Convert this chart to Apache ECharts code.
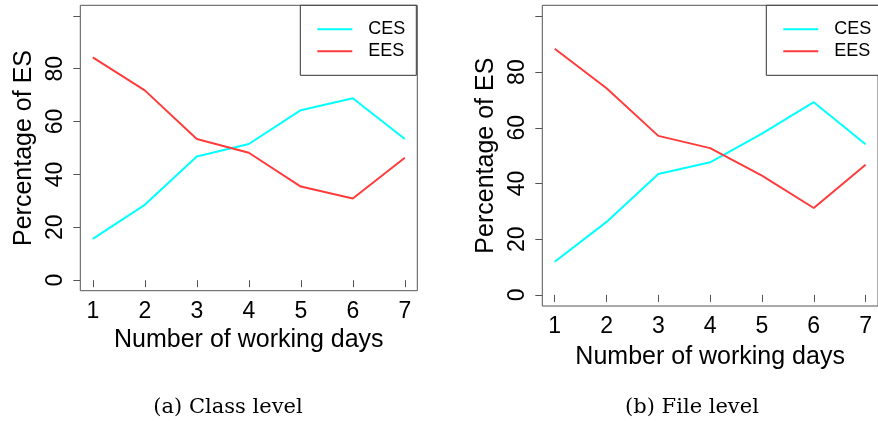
<!DOCTYPE html>
<html>
<head>
<meta charset="utf-8">
<script src="https://cdn.jsdelivr.net/npm/echarts@6/dist/echarts.min.js"></script>
<style>html,body{margin:0;padding:0;background:#fff;}#c{width:878px;height:423px;}</style>
</head>
<body>
<div id="c"></div>
<script>
// ---- data ----
var days = [1, 2, 3, 4, 5, 6, 7];
var classCES = [15.6, 28.5, 46.8, 51.5, 64.3, 68.8, 53.4];
var classEES = [84.3, 71.8, 53.4, 48.2, 35.4, 30.9, 46.3];
var fileCES = [11.9, 26.2, 43.4, 47.6, 57.9, 69.2, 54.1];
var fileEES = [88.4, 74.2, 57.1, 52.7, 42.8, 31.2, 46.7];
var yTicks = [0, 20, 40, 60, 80, 100];
var yLabels = [0, 20, 40, 60, 80];
var seriesNames = ['CES', 'EES'];
var xTitle = 'Number of working days';
var yTitle = 'Percentage of ES';
var captions = ['(a) Class level', '(b) File level'];

function pairs(ys) { return days.map(function (d, i) { return [d, ys[i]]; }); }

var FONT = 'Liberation Sans, Arial, sans-serif';
var AX = '#555';
var CYAN = '#00ffff';
var RED = '#ff3b3b';

function xAxis(gi, gap) {
  return {
    type: 'value', gridIndex: gi, min: 0.76, max: 7.24,
    name: xTitle, nameLocation: 'middle', nameGap: gap,
    nameTextStyle: { fontFamily: FONT, fontSize: 25, color: '#000' },
    axisLine: { show: false },
    axisTick: { show: true, inside: false, length: 7, customValues: days, lineStyle: { color: AX, width: 1 } },
    axisLabel: { customValues: days, margin: 9, fontFamily: FONT, fontSize: 23, color: '#000' },
    splitLine: { show: false }
  };
}
function yAxis(gi) {
  return {
    type: 'value', gridIndex: gi, min: -4, max: 104,
    name: yTitle, nameLocation: 'middle', nameGap: 44, nameRotate: 90,
    nameTextStyle: { fontFamily: FONT, fontSize: 25, color: '#000' },
    axisLine: { show: false },
    axisTick: { show: true, inside: false, length: 7, customValues: yTicks, lineStyle: { color: AX, width: 1 } },
    axisLabel: { customValues: yLabels, rotate: 90, margin: 13, fontFamily: FONT, fontSize: 23, color: '#000' },
    splitLine: { show: false }
  };
}
function line(name, gi, ys, color) {
  return {
    type: 'line', name: name, xAxisIndex: gi, yAxisIndex: gi,
    data: pairs(ys), symbol: 'none', showSymbol: false, silent: true,
    lineStyle: { color: color, width: 2 }, itemStyle: { color: color }, animation: false
  };
}
function legend(left) {
  return {
    data: seriesNames, orient: 'vertical', left: left, top: 5.3,
    padding: [15, 11, 15, 17], itemGap: 4, itemWidth: 35, itemHeight: 2,
    icon: 'rect',
    borderColor: '#333', borderWidth: 1, backgroundColor: '#fff',
    selectedMode: false,
    textStyle: { fontFamily: FONT, fontSize: 18, color: '#000', padding: [0, 0, 0, 11] }
  };
}

var chart = echarts.init(document.getElementById('c'), null, { renderer: 'canvas' });
chart.setOption({
  animation: false,
  backgroundColor: '#fff',
  grid: [
    { left: 80.3, top: 5.3, width: 337, height: 285.4, show: true, borderColor: AX, borderWidth: 1, backgroundColor: 'transparent', containLabel: false },
    { left: 542.3, top: 5.3, width: 341, height: 300.7, show: true, borderColor: AX, borderWidth: 1, backgroundColor: 'transparent', containLabel: false }
  ],
  xAxis: [xAxis(0, 37), xAxis(1, 38.5)],
  yAxis: [yAxis(0), yAxis(1)],
  legend: [legend(300.3), legend(766.3)],
  series: [
    line(seriesNames[0], 0, classCES, CYAN),
    line(seriesNames[1], 0, classEES, RED),
    line(seriesNames[0], 1, fileCES, CYAN),
    line(seriesNames[1], 1, fileEES, RED)
  ],
  graphic: [
    { type: 'text', x: 228, y: 408, style: { text: captions[0], font: '21px "DejaVu Serif", serif', fill: '#000', textAlign: 'center', textVerticalAlign: 'middle' } },
    { type: 'text', x: 692, y: 408, style: { text: captions[1], font: '21px "DejaVu Serif", serif', fill: '#000', textAlign: 'center', textVerticalAlign: 'middle' } }
  ]
});
</script>
</body>
</html>
